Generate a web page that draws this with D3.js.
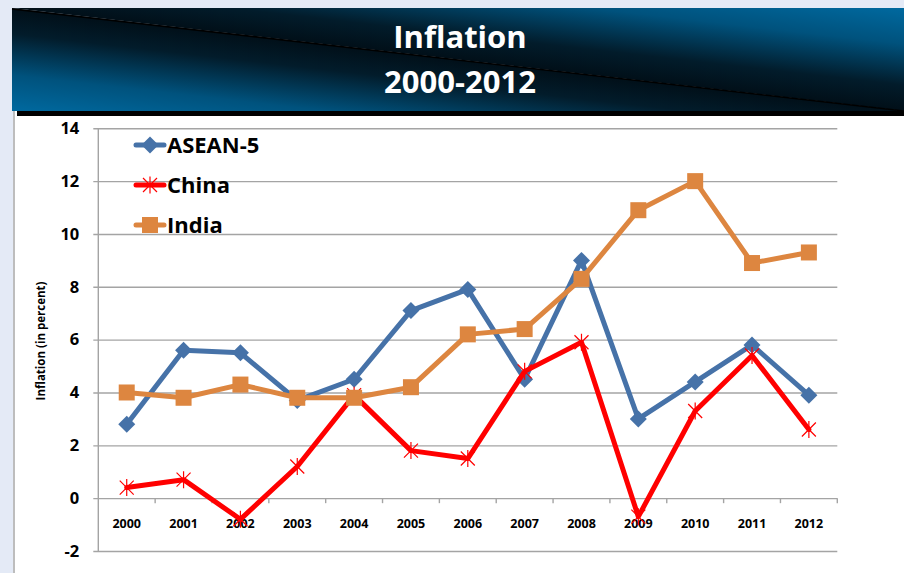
<!DOCTYPE html>
<html>
<head>
<meta charset="utf-8">
<script src="https://cdn.jsdelivr.net/npm/d3@7"></script>
<style>
  html, body { margin: 0; padding: 0; background: #e4eaf6; }
  svg { display: block; }
  text { font-family: "Open Sans", "DejaVu Sans", sans-serif; font-weight: 700; }
</style>
</head>
<body>
<svg id="chart" width="904" height="573"></svg>
<script>
// Annual inflation, in percent
const years = ["2000","2001","2002","2003","2004","2005","2006","2007","2008","2009","2010","2011","2012"];
const asean5 = [2.8, 5.6, 5.5, 3.7, 4.5, 7.1, 7.9, 4.5, 9.0, 3.0, 4.4, 5.8, 3.9];
const china  = [0.4, 0.7, -0.8, 1.2, 3.9, 1.8, 1.5, 4.8, 5.9, -0.7, 3.3, 5.4, 2.6];
const india  = [4.0, 3.8, 4.3, 3.8, 3.8, 4.2, 6.2, 6.4, 8.3, 10.9, 12.0, 8.9, 9.3];
const yTicks = [-2, 0, 2, 4, 6, 8, 10, 12, 14];
const seriesNames = ["ASEAN-5", "China", "India"];
const titleLines = ["Inflation", "2000-2012"];
const yAxisTitle = "Inflation (in percent)";

const series = [
  { name: seriesNames[0], values: asean5, color: "#4672a8", marker: "diamond" },
  { name: seriesNames[1], values: china,  color: "#ff0000", marker: "star" },
  { name: seriesNames[2], values: india,  color: "#dd8640", marker: "square" }
];

const W = 904, H = 573;
const svg = d3.select("#chart");
const defs = svg.append("defs");

// ---- slide frame ----
svg.append("rect").attr("width", W).attr("height", H).attr("fill", "#e4eaf6");
svg.append("rect").attr("x", 15).attr("y", 111).attr("width", W - 15).attr("height", H - 111).attr("fill", "#ffffff");
svg.append("line").attr("x1", 14).attr("x2", 14).attr("y1", 111).attr("y2", H)
  .attr("stroke", "#bdbdbd").attr("stroke-width", 2);

// ---- title banner: two triangles shading from black at the diagonal to blue ----
const bx0 = 12, by0 = 8, bx1 = W, by1 = 111;
function bannerGrad(id, fx, fy, cx, cy) {
  const g = defs.append("linearGradient").attr("id", id)
    .attr("gradientUnits", "userSpaceOnUse")
    .attr("x1", fx).attr("y1", fy).attr("x2", cx).attr("y2", cy);
  g.append("stop").attr("offset", 0).attr("stop-color", "#010f18");
  g.append("stop").attr("offset", 0.25).attr("stop-color", "#021c2b");
  g.append("stop").attr("offset", 0.65).attr("stop-color", "#00527d");
  g.append("stop").attr("offset", 1).attr("stop-color", "#00699f");
}
bannerGrad("gUpper", 892.4, 109.6, bx1, by0);
bannerGrad("gLower", 23.6, 9.4, bx0, by1);
svg.append("polygon")
  .attr("points", `${bx0},${by0} ${bx1},${by0} ${bx1},${by1}`)
  .attr("fill", "url(#gUpper)");
svg.append("polygon")
  .attr("points", `${bx0},${by0} ${bx1},${by1} ${bx0},${by1}`)
  .attr("fill", "url(#gLower)");
svg.append("line").attr("x1", bx0).attr("y1", by0 + 1).attr("x2", bx1).attr("y2", by1)
  .attr("stroke", "#000").attr("stroke-width", 1.6);
svg.append("rect").attr("x", 17).attr("y", 111).attr("width", W - 17).attr("height", 5).attr("fill", "#000");

svg.selectAll("text.title").data(titleLines).join("text")
  .attr("class", "title")
  .attr("x", 460).attr("y", (d, i) => 48 + i * 45)
  .attr("text-anchor", "middle")
  .attr("fill", "#ffffff")
  .attr("font-size", 31)
  .text(d => d);

// ---- scales ----
const plot = { left: 98.3, right: 837.3, top: 128.3, bottom: 551 };
const x = d3.scaleBand().domain(years).range([plot.left, plot.right]).padding(0);
const y = d3.scaleLinear().domain([-2, 14]).range([plot.bottom, plot.top]);
const cx = d => x(d) + x.bandwidth() / 2;

// ---- gridlines + y tick labels ----
const gridColor = "#a4a4a4";
const gy = svg.append("g").attr("transform", `translate(${plot.left - 5},0)`)
  .call(d3.axisLeft(y).tickValues(yTicks).tickFormat(d => String(d))
    .tickSizeInner(-(plot.right - plot.left + 5)).tickSizeOuter(0).tickPadding(14));
gy.select(".domain").remove();
gy.selectAll(".tick line").attr("stroke", gridColor).attr("stroke-width", 1.4);
gy.selectAll(".tick text").attr("font-size", 16.5).attr("fill", "#000")
  .attr("font-family", "'Open Sans', sans-serif").attr("font-weight", 700);

// vertical axis line
svg.append("line").attr("x1", plot.left).attr("x2", plot.left)
  .attr("y1", plot.top).attr("y2", plot.bottom)
  .attr("stroke", gridColor).attr("stroke-width", 1.4);

// category boundary ticks on the zero line
const bounds = years.map(d => x(d)).concat([plot.right]).slice(1);
svg.append("g").selectAll("line").data(bounds).join("line")
  .attr("x1", d => d).attr("x2", d => d)
  .attr("y1", y(0)).attr("y2", y(0) + 5)
  .attr("stroke", gridColor).attr("stroke-width", 1.4);

// year labels
const gx = svg.append("g").attr("transform", `translate(0,${y(0)})`)
  .call(d3.axisBottom(x).tickSize(0).tickPadding(21));
gx.select(".domain").remove();
gx.selectAll(".tick text").attr("font-size", 12.5).attr("fill", "#000")
  .attr("font-family", "'Open Sans', sans-serif").attr("font-weight", 700);

// y axis title
svg.append("text")
  .attr("transform", "translate(45,341) rotate(-90)")
  .attr("text-anchor", "middle")
  .attr("font-size", 11.5)
  .attr("fill", "#000")
  .text(yAxisTitle);

// ---- markers ----
function drawMarker(g, type, color) {
  if (type === "diamond") {
    g.append("path").attr("d", "M0,-8.5L8.5,0L0,8.5L-8.5,0Z").attr("fill", color);
  } else if (type === "square") {
    g.append("rect").attr("x", -8).attr("y", -8).attr("width", 16).attr("height", 16).attr("fill", color);
  } else {
    g.append("path").attr("d", "M-7,-7L7,7M-7,7L7,-7M0,-8.5L0,8.5")
      .attr("stroke", color).attr("stroke-width", 1.2).attr("fill", "none");
  }
}

// ---- series ----
const line = d3.line().x((d, i) => cx(years[i])).y(d => y(d));
series.forEach(s => {
  const g = svg.append("g");
  g.append("path").datum(s.values)
    .attr("d", line)
    .attr("fill", "none")
    .attr("stroke", s.color)
    .attr("stroke-width", 5)
    .attr("stroke-linejoin", "round")
    .attr("stroke-linecap", "round");
  s.values.forEach((v, i) => {
    const m = g.append("g").attr("transform", `translate(${cx(years[i])},${y(v)})`);
    drawMarker(m, s.marker, s.color);
  });
});

// ---- legend ----
const legend = svg.append("g");
series.forEach((s, i) => {
  const ly = 145 + i * 40;
  const g = legend.append("g");
  g.append("line").attr("x1", 136).attr("x2", 164).attr("y1", ly).attr("y2", ly)
    .attr("stroke", s.color).attr("stroke-width", 5).attr("stroke-linecap", "round");
  const m = g.append("g").attr("transform", `translate(150,${ly})`);
  drawMarker(m, s.marker, s.color);
  g.append("text").attr("x", 167).attr("y", ly + 8)
    .attr("font-size", 22).attr("fill", "#000").text(s.name);
});
</script>
</body>
</html>
